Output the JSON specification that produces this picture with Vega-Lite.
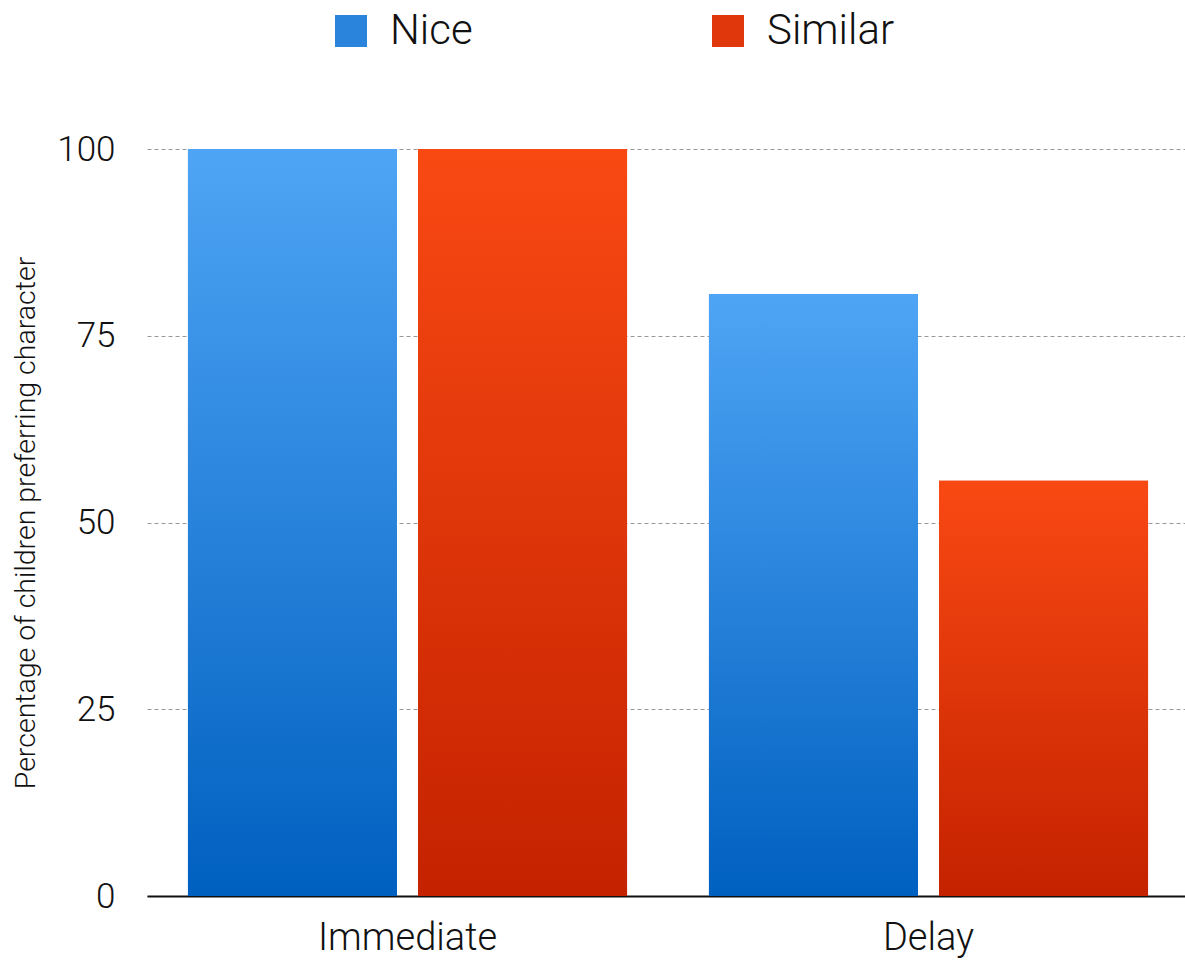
{
  "$schema": "https://vega.github.io/schema/vega-lite/v6.json",
  "autosize": {"type": "none"},
  "width": 1042,
  "height": 747,
  "padding": {"left": 147, "top": 149, "right": 0, "bottom": 65},
  "background": "white",
  "data": {
    "values": [
      {"condition": "Immediate", "character": "Nice", "percent": 100},
      {"condition": "Immediate", "character": "Similar", "percent": 100},
      {"condition": "Delay", "character": "Nice", "percent": 80.6},
      {"condition": "Delay", "character": "Similar", "percent": 55.6}
    ]
  },
  "encoding": {
    "x": {
      "field": "condition",
      "type": "nominal",
      "sort": ["Immediate", "Delay"],
      "scale": {"domain": ["Immediate", "Delay"], "paddingInner": 0, "paddingOuter": 0},
      "axis": {
        "title": null,
        "labelAngle": 0,
        "ticks": false,
        "domain": true,
        "domainColor": "#111111",
        "domainWidth": 2,
        "labelFont": "Roboto",
        "labelFontWeight": 300,
        "labelFontSize": 38,
        "labelColor": "#111111",
        "labelPadding": 23
      }
    },
    "xOffset": {
      "field": "character",
      "type": "nominal",
      "scale": {"domain": ["Nice", "Similar"], "paddingInner": 0.0913, "paddingOuter": 0.178}
    },
    "y": {
      "field": "percent",
      "type": "quantitative",
      "scale": {"domain": [0, 100], "nice": false},
      "axis": {
        "title": "Percentage of children preferring character",
        "titleFont": "Roboto",
        "titleFontWeight": 300,
        "titleFontSize": 28.5,
        "titleColor": "#111111",
        "titlePadding": 16,
        "values": [0, 25, 50, 75, 100],
        "domain": false,
        "ticks": false,
        "labelFont": "Roboto",
        "labelFontWeight": 300,
        "labelFontSize": 35,
        "labelColor": "#111111",
        "labelPadding": 32,
        "grid": true,
        "gridColor": "#999999",
        "gridDash": [4, 3],
        "gridWidth": 1.2
      }
    }
  },
  "layer": [
    {
      "mark": {"type": "bar"},
      "encoding": {
        "color": {
          "field": "character",
          "type": "nominal",
          "scale": {"domain": ["Nice", "Similar"], "range": ["#2a84dc", "#e0380c"]},
          "legend": {
            "title": null,
            "orient": "none",
            "direction": "horizontal",
            "legendX": 183,
            "legendY": -139,
            "symbolType": "square",
            "symbolSize": 1024,
            "symbolStrokeWidth": 0,
            "symbolOpacity": 1,
            "labelFont": "Roboto",
            "labelFontWeight": 300,
            "labelFontSize": 42,
            "labelColor": "#111111",
            "labelOffset": 18,
            "columnPadding": 234,
            "padding": 0
          }
        }
      }
    },
    {
      "transform": [{"filter": "datum.character === 'Nice'"}],
      "mark": {
        "type": "bar",
        "color": {"gradient": "linear", "x1": 0, "y1": 0, "x2": 0, "y2": 1,
          "stops": [{"offset": 0, "color": "#4fa5f5"}, {"offset": 1, "color": "#0060c0"}]}
      }
    },
    {
      "transform": [{"filter": "datum.character === 'Similar'"}],
      "mark": {
        "type": "bar",
        "color": {"gradient": "linear", "x1": 0, "y1": 0, "x2": 0, "y2": 1,
          "stops": [{"offset": 0, "color": "#f94913"}, {"offset": 1, "color": "#c42200"}]}
      }
    }
  ],
  "config": {"view": {"stroke": null}}
}
